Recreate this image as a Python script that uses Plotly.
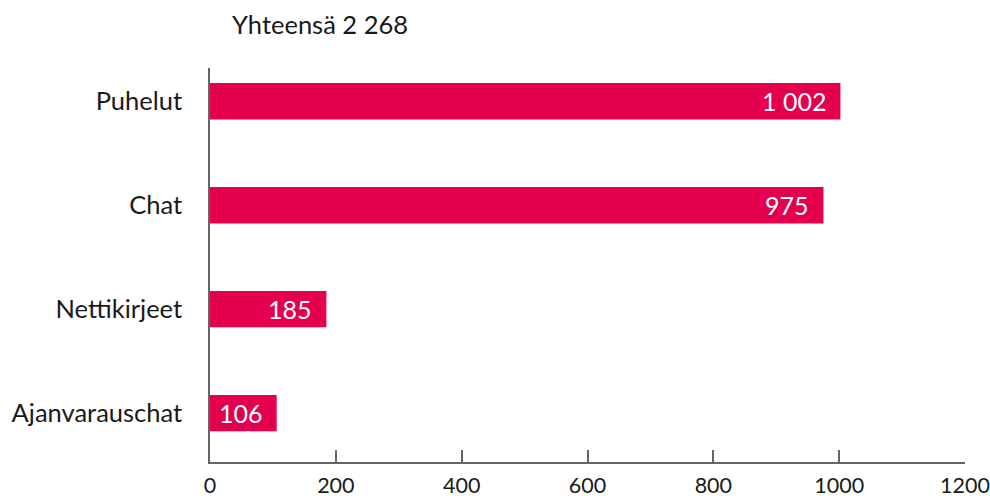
import plotly.graph_objects as go

# Contact channels and their counts
categories = ["Puhelut", "Chat", "Nettikirjeet", "Ajanvarauschat"]
counts = [1002, 975, 185, 106]
total_label = "Yhteensä 2 268"
x_ticks = [0, 200, 400, 600, 800, 1000, 1200]

BAR_COLOR = "#E4004F"
TEXT_COLOR = "#1a1a1a"
AXIS_COLOR = "#666666"
FONT = "Lato"


def fmt(v):
    # Finnish style thousands separator (space)
    return f"{v:,}".replace(",", " ")


fig = go.Figure()
fig.add_trace(go.Bar(
    x=counts,
    y=categories,
    orientation="h",
    marker=dict(color=BAR_COLOR, line=dict(width=0)),
    width=0.35,
    hoverinfo="skip",
))

# Value labels inside the bar ends
for cat, v in zip(categories, counts):
    fig.add_annotation(
        x=v, y=cat, text=fmt(v), showarrow=False,
        xanchor="right", yanchor="middle", xshift=-12,
        font=dict(family=FONT, size=25, color="white"),
    )

fig.update_layout(
    width=990, height=500,
    margin=dict(l=210, r=25, t=68, b=38),
    paper_bgcolor="white", plot_bgcolor="white",
    font=dict(family=FONT, size=24, color=TEXT_COLOR),
    showlegend=False,
    title=dict(
        text=total_label,
        x=232 / 990, xref="container", xanchor="left",
        y=1 - 25 / 500, yref="container", yanchor="middle",
        font=dict(family=FONT, size=25.5, color=TEXT_COLOR),
    ),
    xaxis=dict(
        range=[0, 1200], tickvals=x_ticks, ticktext=[str(t) for t in x_ticks],
        showgrid=False, zeroline=False,
        showline=True, linecolor=AXIS_COLOR, linewidth=1.5,
        ticks="inside", ticklen=12, tickwidth=1.5, tickcolor=AXIS_COLOR,
        ticklabelstandoff=3, automargin=False, ticklabeloverflow="allow",
        tickfont=dict(family=FONT, size=21.5, color=TEXT_COLOR),
        fixedrange=True,
    ),
    yaxis=dict(
        categoryorder="array", categoryarray=categories,
        range=[3.47, -0.32],
        showgrid=False, zeroline=False,
        showline=True, linecolor=AXIS_COLOR, linewidth=1.5,
        ticks="", ticklabelstandoff=21, automargin=False,
        tickfont=dict(family=FONT, size=25.5, color=TEXT_COLOR),
        fixedrange=True,
    ),
)

fig.write_html("out.html")
